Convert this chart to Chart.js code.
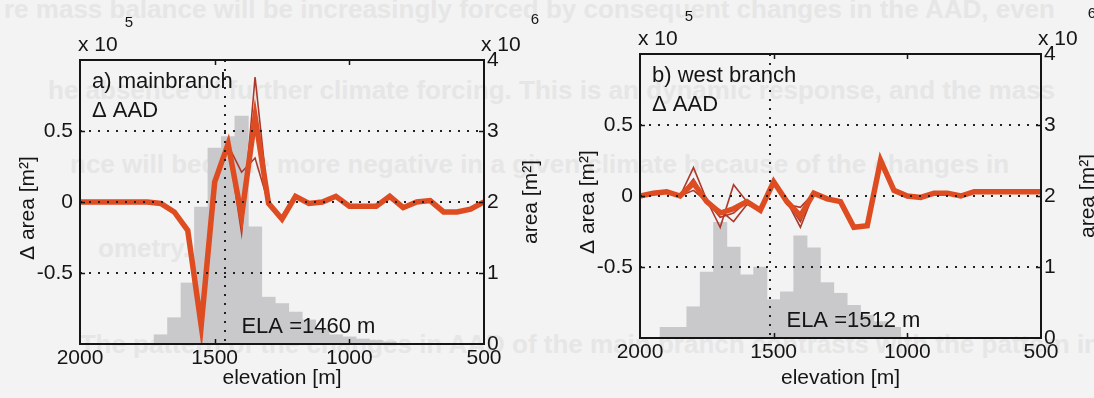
<!doctype html>
<html lang="en">
<head>
<meta charset="utf-8">
<title>Change in area-altitude distribution</title>
<script src="https://cdn.jsdelivr.net/npm/chart.js@4.4.1/dist/chart.umd.min.js"></script>
<style>
  html, body { margin: 0; padding: 0; }
  body {
    width: 1094px; height: 398px; position: relative; overflow: hidden;
    background: #f3f3f3;
  }
  /* print from the facing page showing through */
  .page-line {
    position: absolute; white-space: nowrap;
    font: bold 26px "Liberation Sans", Arial, sans-serif;
    color: #e6e6e6;
  }
  canvas { position: absolute; top: 0; }
  #panelA { left: 0; }
  #panelB { left: 547px; }
</style>
</head>
<body>
<div class="page-line" style="left:4px; top:-6px">re mass balance will be increasingly forced by consequent changes in the AAD, even</div>
<div class="page-line" style="left:48px; top:75px">he absence of further climate forcing. This is an dynamic response, and the mass</div>
<div class="page-line" style="left:70px; top:149px">nce will become more negative in a given climate because of the changes in</div>
<div class="page-line" style="left:98px; top:233px">ometry.</div>
<div class="page-line" style="right:-6px; top:329px">The pattern of the changes in AAD of the main branch contrasts with the pattern in</div>

<canvas id="panelA" width="547" height="398"></canvas>
<canvas id="panelB" width="547" height="398"></canvas>

<script>
// elevation bands [m]
const elevation = [2000, 1950, 1900, 1850, 1800, 1750, 1700, 1650, 1600, 1550, 1500,
                   1450, 1400, 1350, 1300, 1250, 1200, 1150, 1100, 1050, 1000,
                   950, 900, 850, 800, 750, 700, 650, 600, 550, 500];

// main branch: change in area per band [x 10^5 m2]
const mainChange = [0, 0, 0, 0, 0, 0, -0.01, -0.07, -0.2, -0.87, 0.14,
                    0.41, -0.1, 0.6, -0.01, -0.12, 0.04, -0.01, 0, 0.04, -0.03,
                    -0.03, -0.03, 0.04, -0.04, 0, 0.01, -0.07, -0.07, -0.05, 0];
const mainRun1 = [0, 0, 0, 0, 0, 0, -0.01, -0.07, -0.2, -0.9, 0.14,
                  0.41, -0.22, 0.88, -0.01, -0.12, 0.04, -0.01, 0, 0.04, -0.03,
                  -0.03, -0.03, 0.04, -0.04, 0, 0.01, -0.07, -0.07, -0.05, 0];
const mainRun2 = [0, 0, 0, 0, 0, 0, -0.01, -0.07, -0.2, -0.86, 0.14,
                  0.4, 0.21, 0.31, -0.01, -0.12, 0.04, -0.01, 0, 0.04, -0.03,
                  -0.03, -0.03, 0.04, -0.04, 0, 0.01, -0.07, -0.07, -0.05, 0];
const mainRun3 = [0, 0, 0, 0, 0, 0, -0.01, -0.07, -0.2, -0.87, 0.14,
                  0.41, -0.17, 0.64, -0.01, -0.12, 0.04, -0.01, 0, 0.04, -0.03,
                  -0.03, -0.03, 0.04, -0.04, 0, 0.01, -0.07, -0.07, -0.05, 0];
// main branch: area per band [x 10^6 m2]
const mainArea = [0, 0, 0, 0, 0, 0, 0.13, 0.37, 0.86, 1.93, 2.76,
                  2.92, 3.21, 1.65, 0.66, 0.57, 0.45, 0.34, 0.22, 0.13, 0.1,
                  0.07, 0.05, 0.03, 0, 0, 0, 0, 0, 0, 0];

// west branch
const westChange = [0, 0.02, 0.03, 0, 0.09, -0.04, -0.12, -0.09, -0.04, -0.1, 0.1,
                    -0.04, -0.14, 0.02, -0.02, -0.04, -0.22, -0.21, 0.25, 0.04, 0,
                    -0.01, 0.02, 0.02, 0, 0.03, 0.03, 0.03, 0.03, 0.03, 0.03];
const westRun1 = [0, 0.02, 0.03, 0, 0.2, -0.03, -0.22, 0.08, -0.04, -0.1, 0.1,
                  -0.04, -0.22, 0.02, -0.02, -0.04, -0.22, -0.21, 0.25, 0.04, 0,
                  -0.01, 0.02, 0.02, 0, 0.03, 0.03, 0.03, 0.03, 0.03, 0.03];
const westRun2 = [0, 0.02, 0.03, 0, 0.04, -0.04, -0.1, -0.18, -0.06, -0.1, 0.1,
                  -0.06, -0.08, 0.02, -0.02, -0.04, -0.22, -0.21, 0.25, 0.04, 0,
                  -0.01, 0.02, 0.02, 0, 0.03, 0.03, 0.03, 0.03, 0.03, 0.03];
const westRun3 = [0, 0.02, 0.03, 0, 0.12, -0.04, -0.15, -0.12, -0.04, -0.1, 0.1,
                  -0.04, -0.18, 0.02, -0.02, -0.04, -0.22, -0.21, 0.25, 0.04, 0,
                  -0.01, 0.02, 0.02, 0, 0.03, 0.03, 0.03, 0.03, 0.03, 0.03];
const westArea = [0, 0, 0.15, 0.15, 0.44, 0.93, 1.63, 1.28, 0.89, 1.0, 0.54,
                  0.65, 1.44, 1.27, 0.78, 0.63, 0.46, 0.32, 0.23, 0.15, 0,
                  0, 0, 0, 0, 0, 0, 0, 0, 0, 0];

const mainEla = 1460;
const westEla = 1512;

const FONT = '"Liberation Sans", Arial, sans-serif';
const INK = '#151515';
Chart.defaults.font.family = FONT;
Chart.defaults.font.size = 21;
Chart.defaults.color = INK;

const pts = vals => elevation.map((e, i) => ({ x: e, y: vals[i] }));

// box, inside ticks, ELA marker and the annotations
const panelDecor = {
  id: 'panelDecor',
  afterDatasetsDraw(chart, args, opts) {
    const { ctx, chartArea: a, scales } = chart;
    const ex = Math.round(scales.x.getPixelForValue(opts.ela));
    ctx.save();
    ctx.strokeStyle = '#222';
    ctx.lineWidth = 2;
    ctx.setLineDash([2, 7]);
    ctx.beginPath();
    ctx.moveTo(ex, a.top);
    ctx.lineTo(ex, a.bottom);
    ctx.stroke();
    ctx.restore();
  },
  afterDraw(chart, args, opts) {
    const { ctx, chartArea: a, scales } = chart;
    const mid = (a.top + a.bottom) / 2;
    ctx.save();

    // inside tick marks
    ctx.strokeStyle = INK;
    ctx.lineWidth = 1.5;
    ctx.beginPath();
    scales.x.ticks.forEach(t => {
      if (t.value === 500 || t.value === 2000) return;
      const px = Math.round(scales.x.getPixelForValue(t.value)) + 0.5;
      ctx.moveTo(px, a.bottom); ctx.lineTo(px, a.bottom - 5);
      ctx.moveTo(px, a.top); ctx.lineTo(px, a.top + 5);
    });
    scales.y2.ticks.forEach(t => {
      if (t.value === 0 || t.value === 4) return;
      const py = Math.round(scales.y2.getPixelForValue(t.value)) + 0.5;
      ctx.moveTo(a.right, py); ctx.lineTo(a.right - 5, py);
    });
    scales.y.ticks.forEach(t => {
      if (Math.abs(t.value) === 1) return;
      const py = Math.round(scales.y.getPixelForValue(t.value)) + 0.5;
      ctx.moveTo(a.left, py); ctx.lineTo(a.left + 5, py);
    });
    ctx.stroke();

    // axes box
    ctx.lineWidth = 2;
    ctx.strokeRect(a.left, a.top, a.right - a.left, a.bottom - a.top);

    ctx.fillStyle = INK;
    ctx.textBaseline = 'alphabetic';
    ctx.textAlign = 'left';
    ctx.font = '22px ' + FONT;
    ctx.fillText(opts.title, a.left + 12, a.top + 28);
    ctx.fillText('\u0394 AAD', a.left + 12, a.top + 57);
    const ex = scales.x.getPixelForValue(opts.ela);
    ctx.fillText('ELA =' + opts.ela + ' m', ex + 16, a.bottom - 11);

    // axis multipliers
    ctx.font = '21px ' + FONT;
    ctx.fillText('x 10', a.left - 2, a.top - 9);
    const wl = ctx.measureText('x 10').width;
    ctx.fillText('x 10', a.right - 3, a.top - 9);
    ctx.font = '15px ' + FONT;
    ctx.fillText('5', a.left - 2 + wl + 7, a.top - 33);
    ctx.fillText('6', a.right - 3 + wl + 10, a.top - 36);

    // axis titles
    ctx.font = '21px ' + FONT;
    ctx.textAlign = 'center';
    ctx.fillText('elevation [m]', (a.left + a.right) / 2, chart.height - 14);
    ctx.textBaseline = 'middle';
    ctx.save();
    ctx.translate(a.left - 52, mid + 6);
    ctx.rotate(-Math.PI / 2);
    ctx.fillText('\u0394 area [m\u00b2]', 0, 0);
    ctx.restore();
    ctx.save();
    ctx.translate(a.right + 47, mid);
    ctx.rotate(-Math.PI / 2);
    ctx.fillText('area [m\u00b2]', 0, 0);
    ctx.restore();

    ctx.restore();
  }
};

function drawPanel(id, p) {
  const runStyle = {
    type: 'line', yAxisID: 'y', borderColor: 'rgb(172, 56, 42)', borderWidth: 1.6,
    pointRadius: 0, tension: 0, order: 2
  };
  return new Chart(document.getElementById(id), {
    type: 'bar',
    data: {
      datasets: [
        { type: 'line', data: pts(p.change), yAxisID: 'y', borderColor: 'rgb(222, 76, 34)',
          borderWidth: 5.5, pointRadius: 0, tension: 0, order: 1 },
        Object.assign({ data: pts(p.runs[0]) }, runStyle),
        Object.assign({ data: pts(p.runs[1]) }, runStyle),
        Object.assign({ data: pts(p.runs[2]) }, runStyle),
        { type: 'bar', data: pts(p.area), yAxisID: 'y2', backgroundColor: 'rgb(201, 201, 203)',
          borderWidth: 0, barPercentage: 1, categoryPercentage: 1, order: 5 }
      ]
    },
    options: {
      responsive: false,
      animation: false,
      layout: { padding: { top: p.box.top, left: 0, right: 0, bottom: 0 } },
      plugins: {
        legend: { display: false },
        tooltip: { enabled: false },
        panelDecor: { ela: p.ela, title: p.title }
      },
      scales: {
        x: {
          type: 'linear', reverse: true, min: 500, max: 2000, offset: false,
          afterFit: s => { s.height = 398 - p.box.bottom; },
          ticks: { stepSize: 500, padding: 2, callback: v => String(v) },
          grid: { display: false, drawTicks: false },
          border: { display: false }
        },
        y: {
          position: 'left', min: -1, max: 1,
          afterFit: s => { s.width = p.box.left; },
          ticks: { stepSize: 0.5, padding: 7,
                   callback: v => (Math.abs(v) === 1 ? '' : String(v)) },
          grid: { drawTicks: false, lineWidth: 2, z: 1,
                  color: c => (Math.abs(c.tick.value) === 1 ? 'rgba(0,0,0,0)' : '#222') },
          border: { display: false, dash: [2, 7] }
        },
        y2: {
          position: 'right', min: 0, max: 4,
          afterFit: s => { s.width = 547 - p.box.right; },
          ticks: { stepSize: 1, padding: 3, callback: v => String(v) },
          grid: { display: false, drawTicks: false },
          border: { display: false }
        }
      }
    },
    plugins: [panelDecor]
  });
}

drawPanel('panelA', {
  title: 'a) mainbranch', ela: mainEla,
  change: mainChange, runs: [mainRun1, mainRun2, mainRun3], area: mainArea,
  box: { left: 80, right: 484, top: 60, bottom: 344 }
});
drawPanel('panelB', {
  title: 'b) west branch', ela: westEla,
  change: westChange, runs: [westRun1, westRun2, westRun3], area: westArea,
  box: { left: 93, right: 494, top: 54, bottom: 338 }
});
</script>
</body>
</html>
